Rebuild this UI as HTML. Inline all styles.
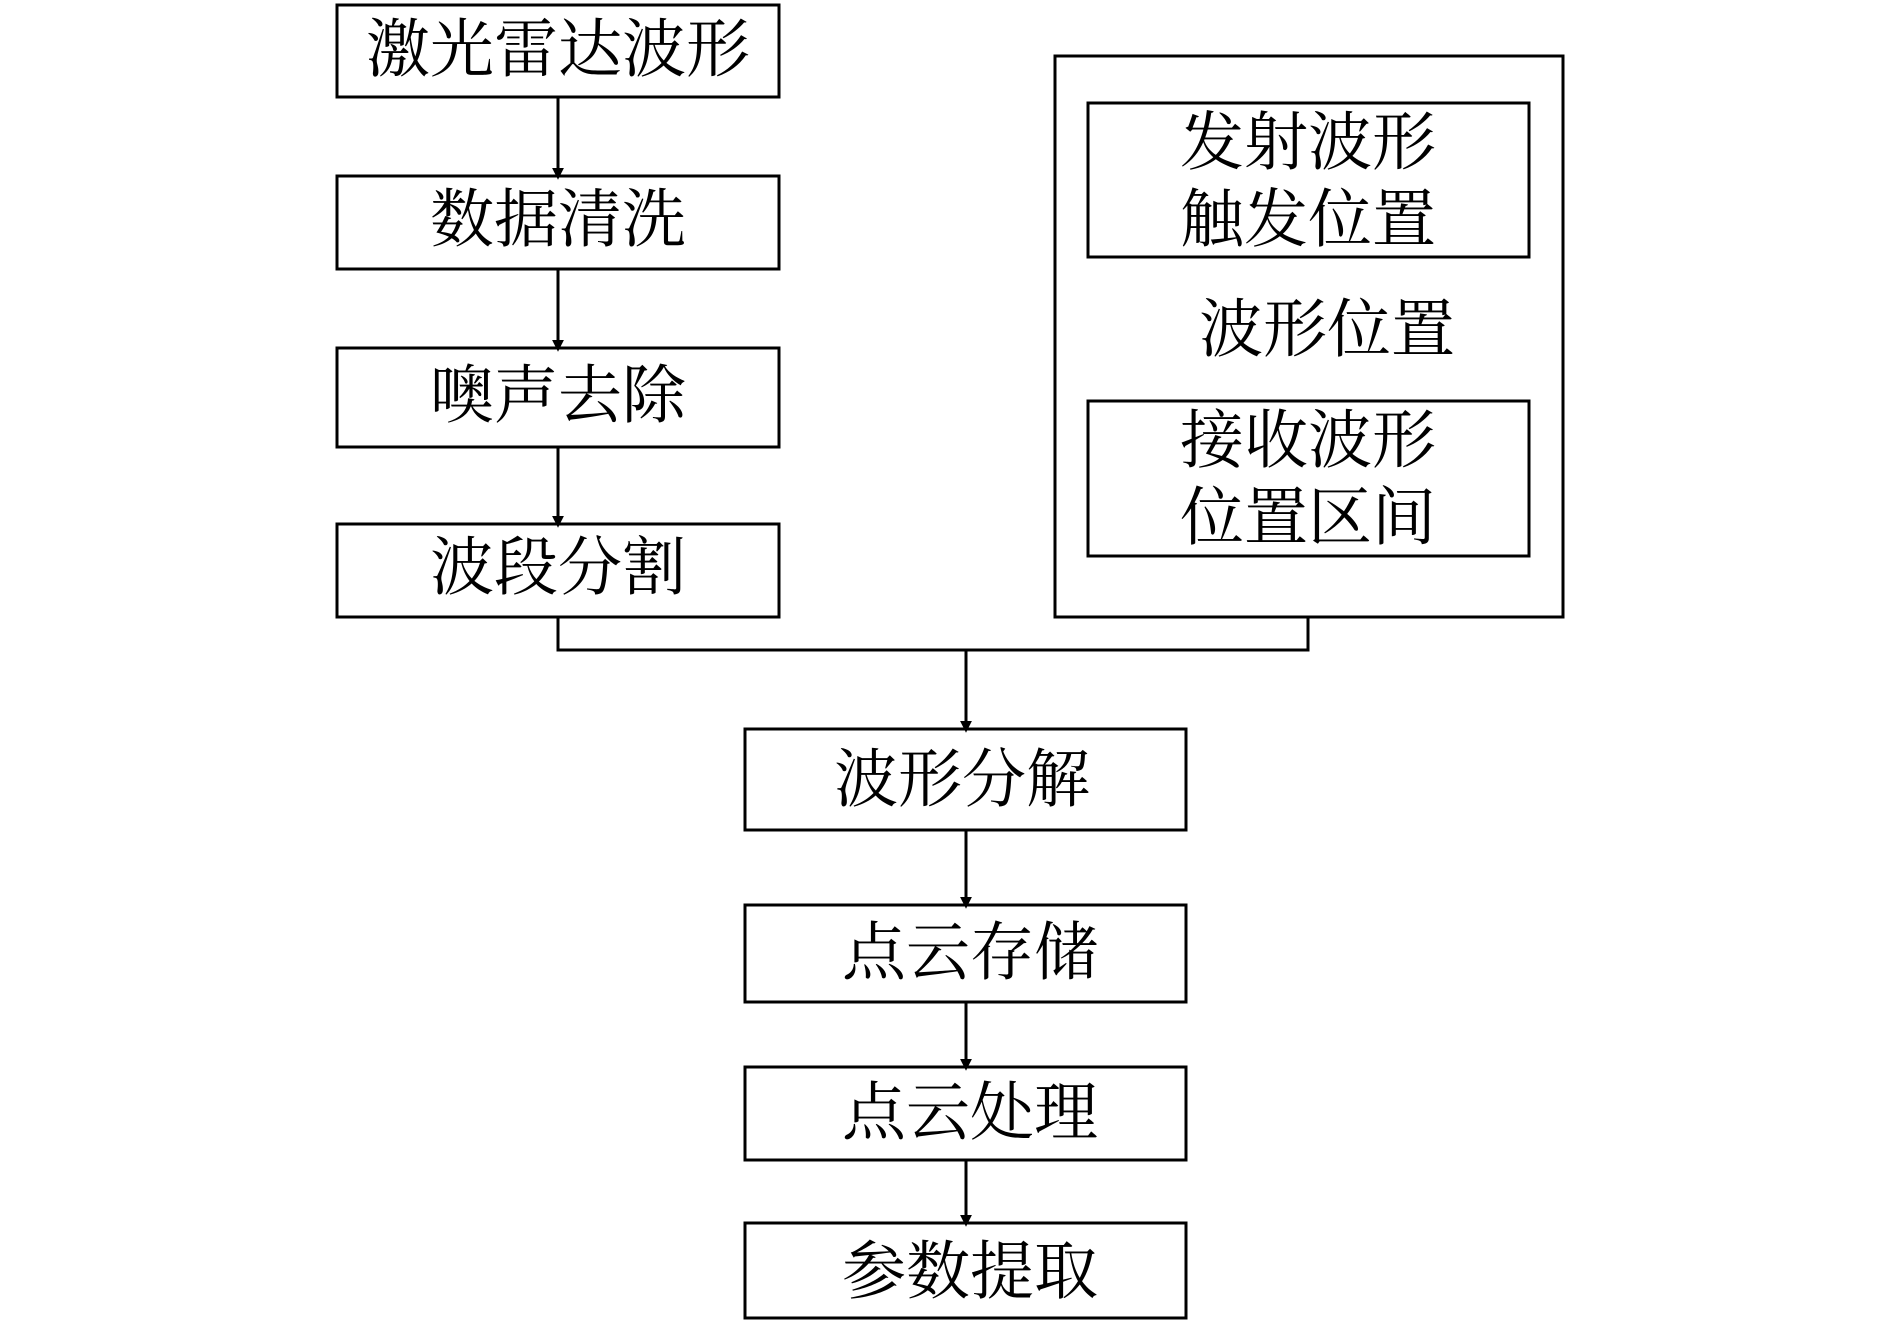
<!DOCTYPE html>
<html><head><meta charset="utf-8"><style>
body{margin:0;background:#fff;}
svg text{font-family:"Liberation Serif","Noto Serif CJK SC","Noto Sans CJK SC",serif;font-size:64px;fill:#000;text-anchor:middle;dominant-baseline:central;}
</style></head><body>
<svg width="1890" height="1320" viewBox="0 0 1890 1320" xmlns="http://www.w3.org/2000/svg">
<defs><marker id="a" markerWidth="12" markerHeight="20" refX="12" refY="10" orient="auto" markerUnits="userSpaceOnUse" viewBox="0 0 20 20"><path d="M0,0 L20,10 L0,20 z" fill="#000"/></marker></defs>
<g fill="none" stroke="#000" stroke-width="3">
<rect x="337" y="5" width="442" height="92"/>
<rect x="337" y="176" width="442" height="93"/>
<rect x="337" y="348" width="442" height="99"/>
<rect x="337" y="524" width="442" height="93"/>
<rect x="1055" y="56" width="508" height="561"/>
<rect x="1088" y="103" width="441" height="154"/>
<rect x="1088" y="401" width="441" height="155"/>
<rect x="745" y="729" width="441" height="101"/>
<rect x="745" y="905" width="441" height="97"/>
<rect x="745" y="1067" width="441" height="93"/>
<rect x="745" y="1223" width="441" height="95"/>
<path d="M558 617 V650 H1308 V617"/>
<line x1="558" y1="97" x2="558" y2="175" marker-end="url(#a)"/>
<line x1="558" y1="269" x2="558" y2="347" marker-end="url(#a)"/>
<line x1="558" y1="447" x2="558" y2="523" marker-end="url(#a)"/>
<line x1="966" y1="650" x2="966" y2="728" marker-end="url(#a)"/>
<line x1="966" y1="830" x2="966" y2="904" marker-end="url(#a)"/>
<line x1="966" y1="1002" x2="966" y2="1066" marker-end="url(#a)"/>
<line x1="966" y1="1160" x2="966" y2="1222" marker-end="url(#a)"/>
</g>
<text x="558" y="50">激光雷达波形</text>
<text x="558" y="220">数据清洗</text>
<text x="558" y="396">噢声去除</text>
<text x="558" y="568">波段分割</text>
<text x="1308" y="143">发射波形</text>
<text x="1308" y="220">触发位置</text>
<text x="1327" y="330">波形位置</text>
<text x="1308" y="441">接收波形</text>
<text x="1308" y="518">位置区间</text>
<text x="962" y="780">波形分解</text>
<text x="970" y="953">点云存储</text>
<text x="970" y="1113">点云处理</text>
<text x="970" y="1272">参数提取</text>
</svg>
</body></html>
